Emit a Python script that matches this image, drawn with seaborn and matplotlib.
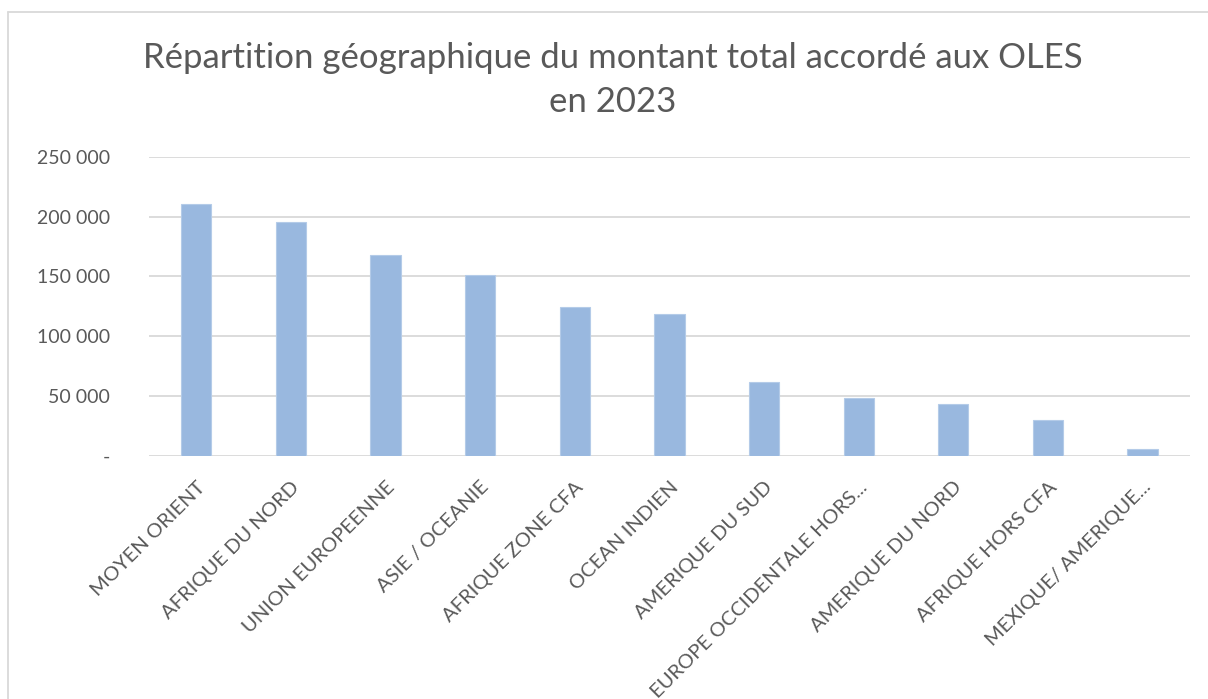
import matplotlib
matplotlib.use("Agg")
import matplotlib.pyplot as plt
import seaborn as sns
import pandas as pd
from matplotlib.lines import Line2D
from matplotlib.ticker import FuncFormatter

categories = ["MOYEN ORIENT", "AFRIQUE DU NORD", "UNION EUROPEENNE", "ASIE / OCEANIE",
              "AFRIQUE ZONE CFA", "OCEAN INDIEN", "AMERIQUE DU SUD",
              "EUROPE OCCIDENTALE HORS...", "AMERIQUE DU NORD", "AFRIQUE HORS CFA",
              "MEXIQUE/ AMERIQUE..."]
values = [210200, 195500, 167600, 151200, 124200, 118600, 61800, 48400, 43700, 29800, 5600]
yticks = [0, 50000, 100000, 150000, 200000, 250000]
title = "Répartition géographique du montant total accordé aux OLES\nen 2023"

sns.set_theme(style="white")
plt.rcParams['font.family'] = ['Lato', 'DejaVu Sans']

df = pd.DataFrame({"region": categories, "montant": values})

fig = plt.figure(figsize=(12.08, 6.99), dpi=100)
ax = fig.add_axes([0.1233, 0.3476, 0.8617, 0.4282])

sns.barplot(data=df, x="region", y="montant", color="#99B8DF", saturation=1,
            width=0.32, edgecolor="#B4CBE8", linewidth=0.8, ax=ax, zorder=3)

ax.set_ylim(0, 250000)
ax.set_xlim(-0.5, len(categories) - 0.5)
ax.set_yticks(yticks)
ax.yaxis.set_major_formatter(FuncFormatter(
    lambda v, p: "-" if v == 0 else f"{int(v):,}".replace(",", " ")))
ax.grid(axis="y", color="#D9D9D9", linewidth=1.3, zorder=0)
ax.set_axisbelow(True)
for s in ax.spines.values():
    s.set_visible(False)
ax.set_xlabel("")
ax.set_ylabel("")
ax.tick_params(axis="y", length=0, pad=28, labelsize=14, labelcolor="#595959")
ax.tick_params(axis="x", length=0, pad=16, labelsize=14.5, labelcolor="#595959")
for lbl in ax.get_xticklabels():
    lbl.set_rotation(45)
    lbl.set_ha("right")
    lbl.set_va("top")
    lbl.set_rotation_mode("anchor")

fig.text(0.5075, 0.94, title, ha="center", va="top", fontsize=25,
         color="#595959", linespacing=1.45)

# chart area border (left and top)
fig.add_artist(Line2D([8/1208, 8/1208], [0, 1 - 12/699], transform=fig.transFigure,
                      color="#D9D9D9", linewidth=1.3))
fig.add_artist(Line2D([8/1208, 1], [1 - 12/699, 1 - 12/699], transform=fig.transFigure,
                      color="#D9D9D9", linewidth=1.3))

fig.savefig("out.png", dpi=100, facecolor="white")
